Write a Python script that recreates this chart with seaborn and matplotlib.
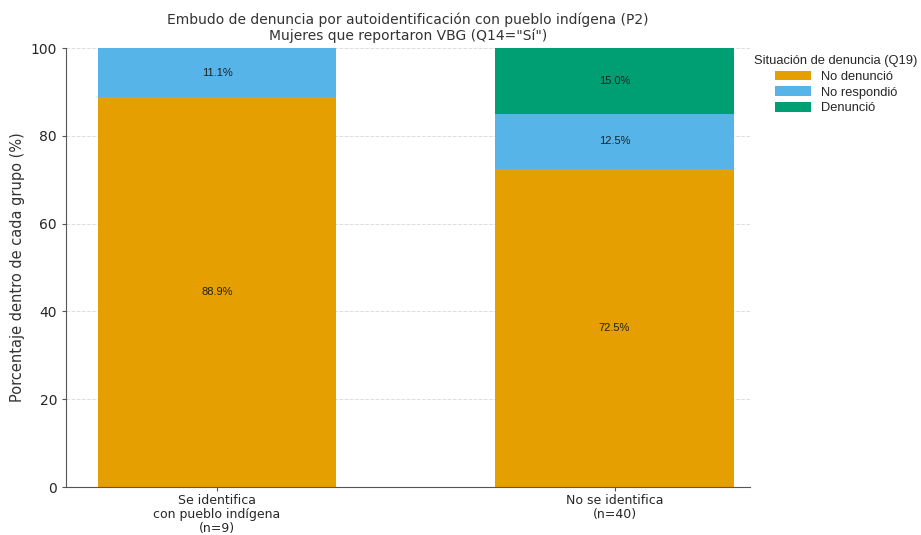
import numpy as np
import pandas as pd
import matplotlib
matplotlib.use("Agg")
import matplotlib.pyplot as plt
import seaborn as sns

grupos = ["Se identifica\ncon pueblo indígena\n(n=9)", "No se identifica\n(n=40)"]
categorias = ["No denunció", "No respondió", "Denunció"]
no_denuncio = [88.9, 72.5]
no_respondio = [11.1, 12.5]
denuncio = [0.0, 15.0]
colores = ["#E69F00", "#56B4E9", "#009E73"]

sns.set_style("white")
plt.rcParams["font.family"] = ["DejaVu Sans"]

df = pd.DataFrame({"grupo": grupos,
                   "No denunció": no_denuncio,
                   "No respondió": no_respondio,
                   "Denunció": denuncio})

fig, ax = plt.subplots(figsize=(9.21, 5.35), dpi=100)
fig.subplots_adjust(left=0.0717, right=0.814, top=0.910, bottom=0.0897)

base = np.zeros(len(grupos))
for cat, col in zip(categorias, colores):
    vals = df[cat].values
    sns.barplot(x=df["grupo"], y=vals, bottom=base, color=col, width=0.6,
                label=cat, ax=ax, saturation=1, linewidth=0, edgecolor=col)
    for i, v in enumerate(vals):
        if v > 0:
            ax.text(i, base[i] + v / 2, f"{v:.1f}%", ha="center", va="center",
                    fontsize=8, color="#222222", family="Liberation Sans")
    base = base + vals

ax.set_ylim(0, 100)
ax.set_xlim(-0.38, 1.34)
ax.set_yticks([0, 20, 40, 60, 80, 100])
ax.yaxis.grid(True, linestyle="--", color="#dddddd", linewidth=0.7)
ax.set_axisbelow(True)
for s in ["top", "right"]:
    ax.spines[s].set_visible(False)
for s in ["left", "bottom"]:
    ax.spines[s].set_color("#555555")
ax.tick_params(axis="y", labelsize=10, left=True, length=3, color="#555555")
ax.tick_params(axis="x", labelsize=9, bottom=True, length=3, pad=2, color="#555555")
for lab in ax.get_xticklabels():
    lab.set_linespacing(1.1)
ax.set_xlabel("")
ax.set_ylabel("Porcentaje dentro de cada grupo (%)", fontsize=10.5, color="#333333")
ax.set_title("Embudo de denuncia por autoidentificación con pueblo indígena (P2)\n"
             "Mujeres que reportaron VBG (Q14=\"Sí\")", fontsize=10, color="#333333",
             linespacing=1.1)

leg = ax.legend(title="Situación de denuncia (Q19)", loc="upper left",
                bbox_to_anchor=(0.99, 1.01), frameon=False,
                prop={"family": "Liberation Sans", "size": 9.3},
                handlelength=2.8, handleheight=0.8, labelspacing=0.25)
leg.get_title().set_fontfamily("Liberation Sans")
leg.get_title().set_fontsize(9.3)

fig.savefig("out.png", dpi=100)
